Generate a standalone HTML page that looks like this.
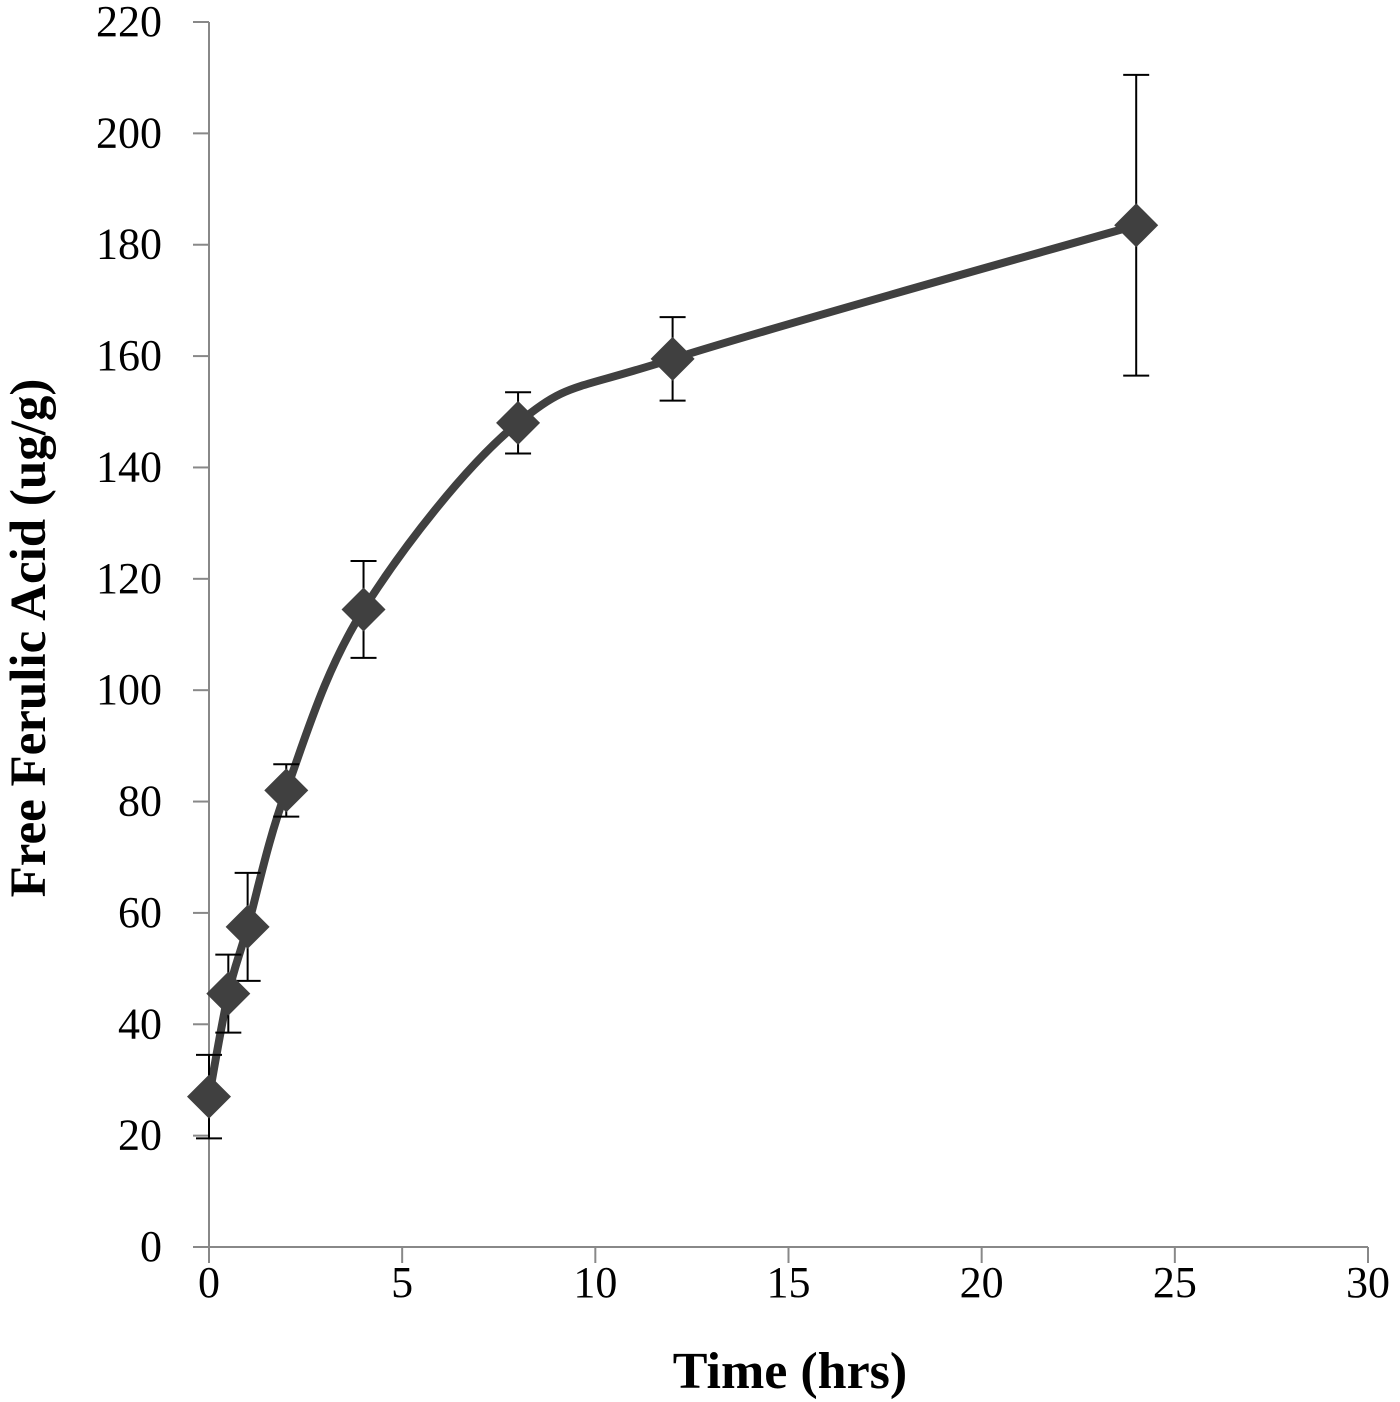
<!DOCTYPE html>
<html><head><meta charset="utf-8"><style>
html,body{margin:0;padding:0;background:#fff;width:1400px;height:1402px;overflow:hidden}
svg text{font-family:"Liberation Serif",serif;fill:#000}
</style></head><body>
<svg id="chart" width="1400" height="1402" xmlns="http://www.w3.org/2000/svg">
<g id="axes"></g>
<g id="series"></g>
<text x="790" y="1388" text-anchor="middle" font-size="52" font-weight="bold">Time (hrs)</text>
<text transform="translate(45,638) rotate(-90)" text-anchor="middle" font-size="51" font-weight="bold">Free Ferulic Acid (ug/g)</text>
</svg>
<script>
const times=[0,0.5,1,2,4,8,12,24];
const values=[27,45.5,57.5,82,114.5,148,159.5,183.5];
const errors=[7.5,7,9.7,4.7,8.7,5.5,7.5,27];
const yTicks=[0,20,40,60,80,100,120,140,160,180,200,220];
const xTicks=[0,5,10,15,20,25,30];
const NS="http://www.w3.org/2000/svg";
const X0=209,X1=1368,Y0=1247,Y1=22;
function sx(v){return X0+(v-0)/(30-0)*(X1-X0);}
function sy(v){return Y0-(v-0)/(220-0)*(Y0-Y1);}
function mk(tag,attrs,parent){const e=document.createElementNS(NS,tag);for(const k in attrs)e.setAttribute(k,attrs[k]);parent.appendChild(e);return e;}
const axes=document.getElementById('axes'),series=document.getElementById('series');
let a=mk('line',{x1:X0,y1:Y1,x2:X0,y2:Y0,stroke:'#888','stroke-width':2},axes);


a=mk('line',{x1:X0,y1:Y0,x2:X1,y2:Y0,stroke:'#888','stroke-width':2},axes);


yTicks.forEach(t=>{
 const tk=mk('line',{x1:X0-16,y1:sy(t),x2:X0,y2:sy(t),stroke:'#888','stroke-width':2},axes);
 
 
 const tx=mk('text',{x:162,y:sy(t)+14,'text-anchor':'end','font-size':44},axes);
 tx.textContent=t;
 
 
});
xTicks.forEach(t=>{
 const tk=mk('line',{x1:sx(t),y1:Y0,x2:sx(t),y2:Y0+16,stroke:'#888','stroke-width':2},axes);
 
 
 const tx=mk('text',{x:sx(t),y:1297,'text-anchor':'middle','font-size':44},axes);
 tx.textContent=t;
 
 
});
const P=times.map((t,i)=>[sx(t),sy(values[i])]);
let d='M'+P[0][0]+','+P[0][1];
for(let i=0;i<P.length-1;i++){
 const p0=P[Math.max(i-1,0)],p1=P[i],p2=P[i+1],p3=P[Math.min(i+2,P.length-1)];
 const k=1/6;
 const c1=[p1[0]+(p2[0]-p0[0])*k,p1[1]+(p2[1]-p0[1])*k];
 const c2=[p2[0]-(p3[0]-p1[0])*k,p2[1]-(p3[1]-p1[1])*k];
 d+=` C${c1[0]},${c1[1]} ${c2[0]},${c2[1]} ${p2[0]},${p2[1]}`;
}
const line=mk('path',{d:d,fill:'none',stroke:'#404040','stroke-width':8,'stroke-linejoin':'round'},series);


times.forEach((t,i)=>{
 const x=sx(t),yt=sy(values[i]+errors[i]),yb=sy(values[i]-errors[i]);
 const g=mk('g',{},series);
 
 
 mk('line',{x1:x,y1:yt,x2:x,y2:yb,stroke:'#000','stroke-width':2},g);
 mk('line',{x1:x-13,y1:yt,x2:x+13,y2:yt,stroke:'#000','stroke-width':2},g);
 mk('line',{x1:x-13,y1:yb,x2:x+13,y2:yb,stroke:'#000','stroke-width':2},g);
});
times.forEach((t,i)=>{
 const x=sx(t),y=sy(values[i]),r=22;
 const m=mk('polygon',{points:`${x},${y-r} ${x+r},${y} ${x},${y+r} ${x-r},${y}`,fill:'#404040'},series);
 
 
});
</script>
</body></html>
